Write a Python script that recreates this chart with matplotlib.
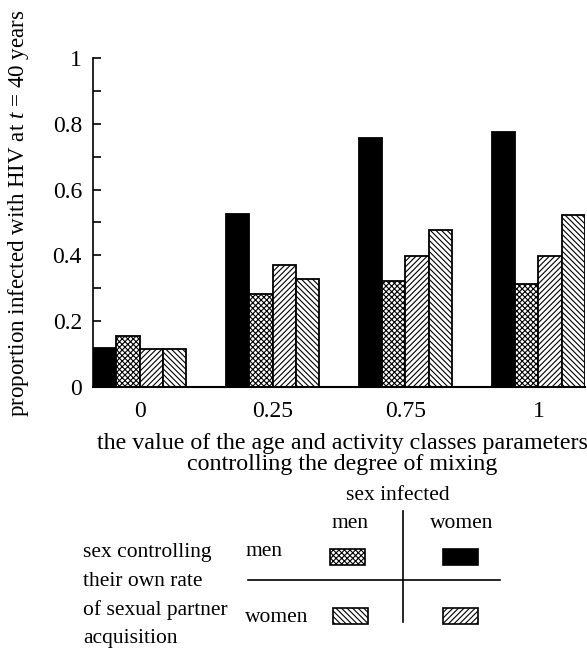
import matplotlib.pyplot as plt
from matplotlib.patches import Rectangle
import numpy as np

plt.rcParams['font.family'] = ['Liberation Serif', 'DejaVu Serif']
plt.rcParams['hatch.linewidth'] = 0.8
plt.rcParams['mathtext.fontset'] = 'custom'
plt.rcParams['mathtext.it'] = 'Liberation Serif:italic'
plt.rcParams['mathtext.rm'] = 'Liberation Serif'

# mixing parameter groups
groups = ['0', '0.25', '0.75', '1']
# proportion infected, by (sex controlling rate, sex infected)
men_ctrl_women_inf = [0.12, 0.525, 0.757, 0.775]   # black
men_ctrl_men_inf = [0.155, 0.283, 0.322, 0.314]    # crosshatch
women_ctrl_women_inf = [0.117, 0.372, 0.397, 0.399]  # ////
women_ctrl_men_inf = [0.117, 0.328, 0.476, 0.523]  # \\\\

series = [
    (men_ctrl_women_inf, 'black', ''),
    (men_ctrl_men_inf, 'white', 'xxxxxx'),
    (women_ctrl_women_inf, 'white', '//////'),
    (women_ctrl_men_inf, 'white', '\\\\\\\\\\\\'),
]

fig = plt.figure(figsize=(5.87, 6.5), dpi=100)
ax = fig.add_axes([93 / 587, 1 - 387 / 650, 492 / 587, 329 / 650])

w = 0.175
x = np.arange(len(groups))
for k, (vals, fc, h) in enumerate(series):
    ax.bar(x + k * w + w / 2, vals, width=w, color=fc, edgecolor='black',
           hatch=h, linewidth=1.3)

ax.set_xlim(0, 3 + 4 * w)
ax.set_ylim(0, 1)
ax.set_yticks([0, 0.2, 0.4, 0.6, 0.8, 1])
ax.set_yticklabels(['0', '0.2', '0.4', '0.6', '0.8', '1'])
ax.set_yticks(np.arange(0.1, 1, 0.2), minor=True)
ax.tick_params(axis='y', which='both', direction='in', length=6, width=1.2,
               labelsize=17, pad=8)
ax.set_xticks(x + 2 * w)
ax.set_xticklabels(groups)
ax.tick_params(axis='x', length=0, labelsize=17, pad=10)
ax.spines['top'].set_visible(False)
ax.spines['right'].set_visible(False)
ax.spines['left'].set_linewidth(1.2)
ax.spines['bottom'].set_linewidth(1.5)

fig.text(342 / 587, 1 - 454 / 650,
         'the value of the age and activity classes parameters\n'
         'controlling the degree of mixing', fontsize=17.3,
         linespacing=1.0, ha='center', va='center')
fig.text(19 / 587, 1 - 213 / 650,
         'proportion infected with HIV at $t$ = 40 years',
         rotation=90, ha='center', va='center', fontsize=16.6)

# legend drawn as a small table in pixel coordinates
lg = fig.add_axes([0, 0, 1, 1])
lg.set_xlim(0, 587)
lg.set_ylim(650, 0)
lg.axis('off')
lg.patch.set_alpha(0)
fs = 15.5
lg.text(398, 495, 'sex infected', ha='center', va='center', fontsize=fs)
lg.text(350, 524, 'men', ha='center', va='center', fontsize=fs)
lg.text(462, 524, 'women', ha='center', va='center', fontsize=fs)
lg.text(246, 552, 'men', ha='left', va='center', fontsize=fs)
lg.text(245, 618, 'women', ha='left', va='center', fontsize=fs)
for i, line in enumerate(['sex controlling', 'their own rate',
                          'of sexual partner', 'acquisition']):
    lg.text(83, 553 + i * 28.5, line, ha='left', va='center', fontsize=fs)
lg.plot([403, 403], [511, 622], color='black', lw=1.2)
lg.plot([248, 500], [580, 580], color='black', lw=1.2)
swatches = [(330, 549, 'white', 'xxxxxx'), (443, 549, 'black', ''),
            (333, 608, 'white', '\\\\\\\\\\\\'), (443, 608, 'white', '//////')]
for sx, sy, fc, h in swatches:
    lg.add_patch(Rectangle((sx, sy), 35, 16, facecolor=fc, edgecolor='black',
                           hatch=h, linewidth=1.2))

fig.savefig('out.png', dpi=100)
